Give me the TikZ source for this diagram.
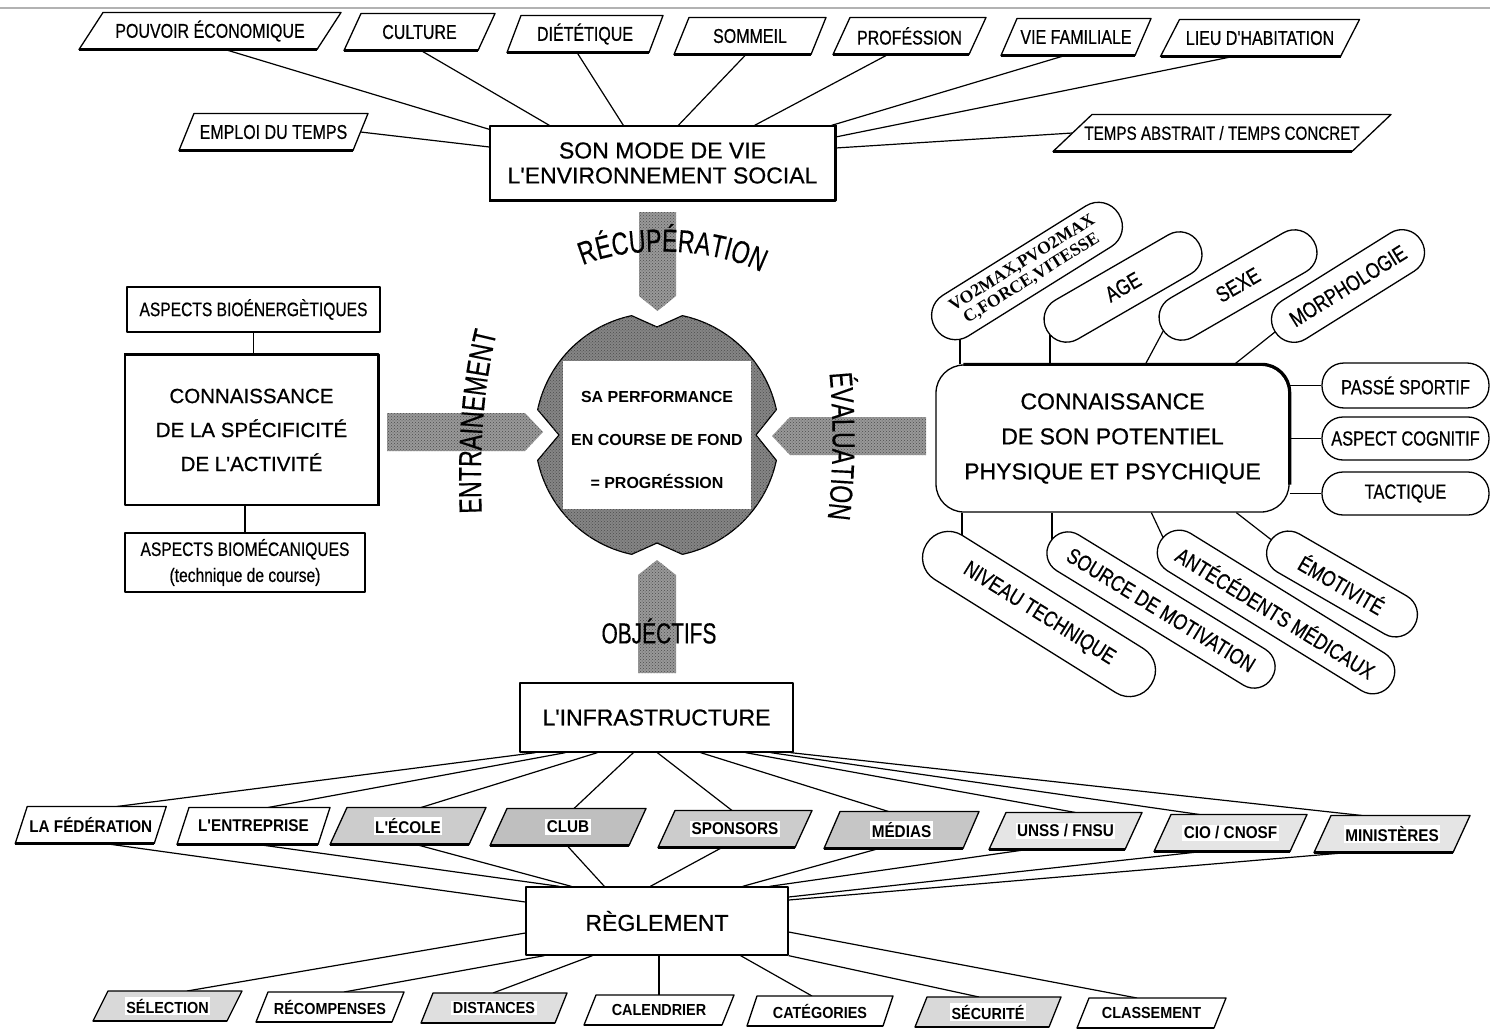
\documentclass[tikz,border=0pt]{standalone}
\usepackage{fontspec}
\setmainfont{Liberation Sans}
\newfontfamily\narrowfont[FakeStretch=0.8,FakeBold=0.5]{Liberation Sans}
\newfontfamily\medfont[FakeBold=0.7]{Liberation Sans}
\newfontfamily\tallfont[FakeStretch=0.72,FakeBold=0.3]{Liberation Sans}
\newfontfamily\boldnarrow[FakeStretch=0.9]{Liberation Sans}
\newfontfamily\serifbold{Liberation Serif}
\usetikzlibrary{decorations.text,patterns}
\pgfdeclarelayer{bg}
\pgfsetlayers{bg,main}

% slanted label box: name, x, y, width, height, half slant, fill, text
\newcommand\slantbox[8]{%
  \node[anchorbox, minimum width=#4, minimum height=#5] (#1) at (#2,#3) {};
  \draw[slantline, fill=#7] ([xshift=-#6pt]#1.south west) -- ([xshift=-#6pt]#1.south east)
     -- ([xshift=#6pt]#1.north east) -- ([xshift=#6pt]#1.north west) -- cycle;
  \draw[line width=2.4pt] ([xshift=-#6pt]#1.south west) -- ([xshift=-#6pt]#1.south east);
  \node[slabel] at (#1) {#8};
}

\begin{document}
\begin{tikzpicture}[x=1pt,y=-1pt, line join=round,
  box/.style={draw, fill=white, line width=1.3pt, inner sep=0pt, align=center},
  anchorbox/.style={inner sep=0pt, outer sep=0pt},
  slantline/.style={draw, line width=1.3pt},
  slabel/.style={inner sep=1.5pt, fill=white},
  link/.style={line width=1.2pt},
  pill/.style={draw, fill=white, line width=1.3pt, inner sep=0pt, align=center},
  pilltext/.style={font=\narrowfont\fontsize{22}{24}\selectfont},
  stipple/.style={postaction={pattern=crosshatch dots, pattern color=black!70}},
  bararrow/.style={fill=black!40, stipple},
  shadowline/.style={line width=3.2pt},
]
\useasboundingbox (0,0) rectangle (1490,1030);
\draw[gray!60, line width=2pt] (0,8) -- (1490,8);

% ---------- lifestyle block ----------
\begin{scope}[slabel/.append style={font=\narrowfont\fontsize{20}{22}\selectfont}]
\slantbox{pouvoir}{210}{31}{238}{37}{12}{white}{POUVOIR ÉCONOMIQUE}
\slantbox{culture}{419.5}{32}{134}{37}{8.5}{white}{CULTURE}
\slantbox{diet}{585}{34}{142}{37}{7}{white}{DIÉTÉTIQUE}
\slantbox{sommeil}{750}{36}{137}{37}{7.5}{white}{SOMMEIL}
\slantbox{prof}{909.5}{36}{136}{37}{8.5}{white}{PROFÉSSION}
\slantbox{vief}{1076}{37}{134}{37}{8}{white}{VIE FAMILIALE}
\slantbox{lieu}{1260}{38}{180}{37}{9.5}{white}{LIEU D'HABITATION}
\slantbox{emploi}{273.5}{132}{174}{37}{7.5}{white}{EMPLOI DU TEMPS}
\end{scope}
\begin{scope}[slabel/.append style={font=\narrowfont\fontsize{19}{21}\selectfont}]
\slantbox{temps}{1222}{133}{299}{37}{19.5}{white}{TEMPS ABSTRAIT / TEMPS CONCRET}
\end{scope}

\node[box, minimum width=345, minimum height=74, font=\medfont\fontsize{23}{25}\selectfont]
  (smv) at (662.5,163) {SON MODE DE VIE\\L'ENVIRONNEMENT SOCIAL};
\draw[shadowline] (smv.north east) -- (smv.south east) -- (smv.south west);

% ---------- activity block ----------
\node[box, minimum width=253, minimum height=45, font=\narrowfont\fontsize{19.5}{21}\selectfont]
  (bioe) at (253.5,309.5) {ASPECTS BIOÉNERGÈTIQUES};
\node[box, minimum width=253, minimum height=150, font=\medfont\fontsize{20.5}{34}\selectfont]
  (conn) at (251.5,430) {CONNAISSANCE\\DE LA SPÉCIFICITÉ\\DE L'ACTIVITÉ};
\draw[shadowline] (conn.north west) -- (conn.north east) -- (conn.south east);
\node[box, minimum width=240, minimum height=59, font=\narrowfont\fontsize{19.5}{26}\selectfont]
  (biom) at (245,562.5) {ASPECTS BIOMÉCANIQUES\\(technique de course)};

% ---------- central performance disc ----------
\path[bararrow] (639,212) -- (676,212) -- (676,296) -- (657.5,311) -- (639,296) -- cycle;
\path[bararrow] (387,413) -- (525,413) -- (543,432) -- (525,451) -- (387,451) -- cycle;
\path[bararrow] (926,417) -- (790,417) -- (772,436) -- (790,455) -- (926,455) -- cycle;
\path[bararrow] (638,673) -- (638,575) -- (657,560) -- (676,575) -- (676,673) -- cycle;

\draw[fill=black!48, stipple, line width=1.2pt] (657,327)
  -- plot[domain=102:168, samples=30] ({657+122*cos(\x)},{435-122*sin(\x)})
  -- (559,435)
  -- plot[domain=192:258, samples=30] ({657+122*cos(\x)},{435-122*sin(\x)})
  -- (657,543)
  -- plot[domain=282:348, samples=30] ({657+122*cos(\x)},{435-122*sin(\x)})
  -- (756,435)
  -- plot[domain=12:78, samples=30] ({657+122*cos(\x)},{435-122*sin(\x)})
  -- cycle;
\fill[white] (563,361) rectangle (751,509);
\node[font=\bfseries\fontsize{16}{43}\selectfont, align=center] (perf) at (657,440)
  {SA PERFORMANCE\\EN COURSE DE FOND\\= PROGRÉSSION};

\path[decorate, decoration={text along path, text align=center,
  text={|\tallfont\fontsize{32}{32}\selectfont|RÉCUPÉRATION}}]
  (572,271) .. controls (612,246) and (712,242) .. (772,278);
\path[decorate, decoration={text along path, text align=center,
  text={|\tallfont\fontsize{32}{32}\selectfont|ENTRAINEMENT}}]
  (482,518) .. controls (479,450) and (483,385) .. (498,328);
\path[decorate, decoration={text along path, text align=center,
  text={|\tallfont\fontsize{32}{32}\selectfont|ÉVALUATION}}]
  (829,368) .. controls (834,420) and (834,470) .. (827,524);
\node[font=\tallfont\fontsize{29}{29}\selectfont, inner sep=0pt] (obj) at (659,631) {OBJÉCTIFS};

% ---------- athlete potential block ----------
\node[box, rounded corners=28pt, minimum width=353, minimum height=147, font=\medfont\fontsize{23}{35}\selectfont]
  (pot) at (1112.5,438.5) {CONNAISSANCE\\DE SON POTENTIEL\\PHYSIQUE ET PSYCHIQUE};
\draw[shadowline, rounded corners=28pt] ([xshift=28pt]pot.north west) -- (pot.north east) -- ([yshift=28pt]pot.south east);

\node[pill, rounded corners=22pt, minimum width=167, minimum height=45, font=\narrowfont\fontsize{20.5}{22}\selectfont]
  (passe) at (1405.5,385.5) {PASSÉ SPORTIF};
\node[pill, rounded corners=21pt, minimum width=167, minimum height=43, font=\narrowfont\fontsize{20.5}{22}\selectfont]
  (cogn) at (1405.5,438.5) {ASPECT COGNITIF};
\node[pill, rounded corners=21pt, minimum width=167, minimum height=43, font=\narrowfont\fontsize{20.5}{22}\selectfont]
  (tact) at (1405.5,493.5) {TACTIQUE};

\node[pill, rounded corners=23.5pt, minimum width=216, minimum height=48, rotate=32,
  font=\serifbold\bfseries\fontsize{17.5}{18}\selectfont] (vo) at (1027,271) {VO2MAX,PVO2MAX\\C,FORCE,VITESSE};
\node[pill, pilltext, rounded corners=22pt, minimum width=175, minimum height=45, rotate=30] (age) at (1123,287) {AGE};
\node[pill, pilltext, rounded corners=22pt, minimum width=175, minimum height=45, rotate=30] (sexe) at (1238,285) {SEXE};
\node[pill, pilltext, rounded corners=22pt, minimum width=172, minimum height=45, rotate=32] (morph) at (1348,286) {MORPHOLOGIE};

\node[pill, pilltext, rounded corners=25.5pt, minimum width=265, minimum height=52, rotate=-32] (niveau) at (1039,614) {NIVEAU TECHNIQUE};
\node[pill, pilltext, rounded corners=20.5pt, minimum width=260, minimum height=42, rotate=-31.5] (source) at (1161,610) {SOURCE DE MOTIVATION};
\node[pill, pilltext, rounded corners=21.5pt, minimum width=271, minimum height=44, rotate=-31.7] (antec) at (1276,612) {ANTÉCÉDENTS MÉDICAUX};
\node[pill, pilltext, rounded corners=21.5pt, minimum width=167, minimum height=44, rotate=-30] (emot) at (1342,584) {ÉMOTIVITÉ};

\coordinate (vo-foot) at (960,322);
\coordinate (age-foot) at (1050,322);
\coordinate (sexe-foot) at (1168,322);
\coordinate (morph-foot) at (1280,328);
\coordinate (niveau-head) at (962,545);
\coordinate (source-head) at (1052,550);
\coordinate (antec-head) at (1168,548);
\coordinate (emot-head) at (1278,545);

% ---------- infrastructure and rules ----------
\node[box, minimum width=273, minimum height=69, font=\medfont\fontsize{23}{25}\selectfont] (infra) at (656.5,717.5) {L'INFRASTRUCTURE};
\node[box, minimum width=262, minimum height=68, font=\medfont\fontsize{23}{25}\selectfont] (regl) at (657,921) {RÈGLEMENT};

\begin{scope}[slabel/.append style={font=\boldnarrow\bfseries\fontsize{17}{19}\selectfont}]
\slantbox{fed}{90.75}{825}{139}{37}{6}{white}{LA FÉDÉRATION}
\slantbox{entr}{253.5}{826}{141}{37}{6}{white}{L'ENTREPRISE}
\slantbox{ecole}{408}{826}{139}{37}{8.5}{gray!40}{L'ÉCOLE}
\slantbox{club}{568}{827}{139}{37}{8.5}{gray!50}{CLUB}
\slantbox{spons}{735}{829}{137}{37}{8.5}{gray!40}{SPONSORS}
\slantbox{medias}{901.5}{830}{139}{37}{8}{gray!45}{MÉDIAS}
\slantbox{unss}{1065.5}{831}{136}{37}{8.5}{gray!20}{UNSS / FNSU}
\slantbox{cio}{1230.5}{833}{136}{37}{8.5}{gray!20}{CIO / CNOSF}
\slantbox{minis}{1392}{834}{139}{37}{8.5}{gray!20}{MINISTÈRES}
\end{scope}

\begin{scope}[slabel/.append style={font=\boldnarrow\bfseries\fontsize{16}{18}\selectfont}]
\slantbox{selec}{167.5}{1006}{134}{30}{7.5}{gray!30}{SÉLECTION}
\slantbox{recomp}{330}{1007}{136}{30}{6}{white}{RÉCOMPENSES}
\slantbox{dist}{494}{1008}{134}{30}{6}{gray!25}{DISTANCES}
\slantbox{cal}{659}{1010}{138}{30}{6}{white}{CALENDRIER}
\slantbox{categ}{820}{1011}{136}{30}{5}{white}{CATÉGORIES}
\slantbox{secu}{988}{1012}{134}{30}{6}{gray!30}{SÉCURITÉ}
\slantbox{classe}{1151.5}{1013}{137}{30}{6}{white}{CLASSEMENT}
\end{scope}

% ---------- connectors (behind the boxes) ----------
\begin{pgfonlayer}{bg}
\draw[link] ([xshift=15pt]pouvoir.south) -- ([yshift=-4pt]smv.north west);
\draw[link] ([xshift=1.5pt]culture.south) -- ([xshift=60pt]smv.north west);
\draw[link] ([xshift=-8pt]diet.south) -- ([xshift=134pt]smv.north west);
\draw[link] ([xshift=-4pt]sommeil.south) -- ([xshift=189pt]smv.north west);
\draw[link] (emploi.east) -- ([yshift=16pt]smv.west);
\draw[link] ([xshift=-21.5pt]prof.south) -- ([xshift=-81pt]smv.north east);
\draw[link] ([xshift=-11pt]vief.south) -- ([xshift=-4pt]smv.north east);
\draw[link] ([xshift=-27pt]lieu.south) -- ([yshift=26pt]smv.east);
\draw[link] (temps.west) -- ([yshift=15pt]smv.east);

\draw[link] (bioe.south) -- (bioe.south |- conn.north);
\draw[link] (biom.north |- conn.south) -- (biom.north);

\draw[link] (passe.west -| pot.east) -- (passe.west);
\draw[link] (cogn.west -| pot.east) -- (cogn.west);
\draw[link] (tact.west -| pot.east) -- (tact.west);
\draw[link] (vo-foot |- pot.north) -- (vo-foot);
\draw[link] (age-foot |- pot.north) -- (age-foot);
\draw[link] ([xshift=210pt]pot.north west) -- (sexe-foot);
\draw[link] ([xshift=299pt]pot.north west) -- (morph-foot);
\draw[link] (niveau-head |- pot.south) -- (niveau-head);
\draw[link] (source-head |- pot.south) -- (source-head);
\draw[link] ([xshift=216pt]pot.south west) -- (antec-head);
\draw[link] ([xshift=301pt]pot.south west) -- (emot-head);

\draw[link] ([xshift=16pt]infra.south west) -- ([xshift=26pt]fed.north);
\draw[link] ([xshift=46pt]infra.south west) -- ([xshift=14.5pt]entr.north);
\draw[link] ([xshift=78pt]infra.south west) -- ([xshift=13pt]ecole.north);
\draw[link] ([xshift=114pt]infra.south west) -- ([xshift=6pt]club.north);
\draw[link] ([xshift=138pt]infra.south west) -- ([xshift=-3pt]spons.north);
\draw[link] ([xshift=-93pt]infra.south east) -- ([xshift=-13pt]medias.north);
\draw[link] ([xshift=-48pt]infra.south east) -- ([xshift=10pt]unss.north);
\draw[link] ([xshift=-23pt]infra.south east) -- ([xshift=-31pt]cio.north);
\draw[link] ([xshift=-3pt]infra.south east) -- ([xshift=-30pt]minis.north);

\draw[link] ([xshift=14pt]fed.south) -- ([yshift=19pt]regl.west);
\draw[link] ([xshift=4.5pt]entr.south) -- ([xshift=34pt]regl.north west);
\draw[link] ([xshift=8pt]ecole.south) -- ([xshift=46pt]regl.north west);
\draw[link] ([xshift=-1pt]club.south) -- ([xshift=79pt]regl.north west);
\draw[link] ([xshift=-13pt]spons.south) -- ([xshift=125pt]regl.north west);
\draw[link] ([xshift=-22.5pt]medias.south) -- ([xshift=-46pt]regl.north east);
\draw[link] ([xshift=-38.5pt]unss.south) -- ([xshift=-19pt]regl.north east);
\draw[link] ([xshift=-28.5pt]cio.south) -- ([yshift=24pt]regl.east);
\draw[link] ([xshift=-44pt]minis.south) -- ([yshift=21pt]regl.east);

\draw[link] ([yshift=-12pt]regl.west) -- ([xshift=19.5pt]selec.north);
\draw[link] ([xshift=19pt]regl.south west) -- ([xshift=14pt]recomp.north);
\draw[link] ([xshift=67pt]regl.south west) -- ([xshift=-1pt]dist.north);
\draw[link] (cal.north |- regl.south) -- (cal.north);
\draw[link] ([xshift=-48pt]regl.south east) -- ([xshift=-8pt]categ.north);
\draw[link] (regl.south east) -- ([xshift=-9pt]secu.north);
\draw[link] ([yshift=-11pt]regl.east) -- ([xshift=-14.5pt]classe.north);
\end{pgfonlayer}
\end{tikzpicture}
\end{document}
